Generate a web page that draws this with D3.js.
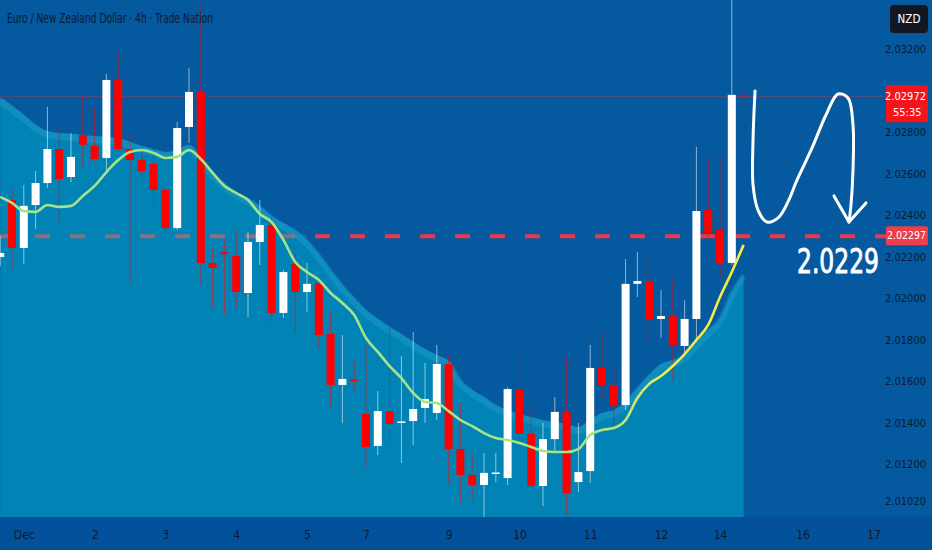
<!DOCTYPE html>
<html>
<head>
<meta charset="utf-8">
<script src="https://cdn.jsdelivr.net/npm/d3@7"></script>
<style>
  body { margin: 0; background: #05599e; overflow: hidden; }
  svg { display: block; }
</style>
</head>
<body>
<svg id="chart"></svg>
<script>
// ---- data (EUR/NZD, 4h bars, first bar index -1) ----
var firstBar = -1;
var opens = [2.02198,2.02472,2.02241,2.02448,2.02554,2.02718,2.02583,2.02786,2.02733,2.02675,2.03056,2.02718,2.02665,2.02646,2.02521,2.02337,
  2.02824,2.02998,2.02169,2.02222,2.02203,2.02024,2.02270,2.02352,2.01928,2.02164,2.02029,2.02072,2.01827,2.01581,2.01607,2.01441,
  2.01287,2.01455,2.01400,2.01407,2.01470,2.01446,2.01682,2.01272,2.01147,2.01099,2.01154,2.01132,2.01561,2.01345,2.01094,2.01320,
  2.01451,2.01113,2.01166,2.01667,2.01581,2.01484,2.02068,2.02082,2.01899,2.01918,2.01769,2.01899,2.02424,2.02328,2.02169,2.02979];
var highs = [2.02299,2.02530,2.02545,2.02612,2.02921,2.02834,2.02795,2.02979,2.02916,2.03080,2.03186,2.02795,2.02723,2.02819,2.02530,2.02848,
  2.03109,2.03412,2.02246,2.02280,2.02328,2.02318,2.02472,2.02390,2.02135,2.02217,2.02169,2.02077,2.01933,2.01822,2.01701,2.01774,
  2.01552,2.01904,2.01721,2.01836,2.01687,2.01774,2.01721,2.01494,2.01253,2.01253,2.01253,2.01571,2.01764,2.01484,2.01398,2.01523,
  2.01716,2.01398,2.01774,2.01836,2.01677,2.02188,2.02222,2.02198,2.02039,2.02096,2.01990,2.02728,2.02680,2.02680,2.03461,2.03065];
var lows = [2.02154,2.02135,2.02164,2.02333,2.02530,2.02362,2.02559,2.02627,2.02656,2.02603,2.02704,2.02072,2.02578,2.02448,2.02304,2.02328,
  2.02747,2.02072,2.01952,2.01918,2.01957,2.01908,2.02159,2.01880,2.01904,2.01836,2.01933,2.01759,2.01475,2.01398,2.01547,2.01181,
  2.01243,2.01301,2.01205,2.01292,2.01398,2.01412,2.01108,2.01012,2.01026,2.00944,2.01113,2.01099,2.01316,2.01084,2.00997,2.01258,
  2.00954,2.01065,2.01108,2.01508,2.01373,2.01460,2.02005,2.01788,2.01807,2.01605,2.01735,2.01802,2.02280,2.02087,2.02159,2.02762];
var closes = [2.02217,2.02241,2.02444,2.02554,2.02718,2.02574,2.02680,2.02738,2.02670,2.03051,2.02718,2.02665,2.02612,2.02521,2.02337,2.02819,
  2.02993,2.02169,2.02145,2.02212,2.02029,2.02270,2.02352,2.01928,2.02125,2.02029,2.02068,2.01822,2.01581,2.01610,2.01600,2.01282,
  2.01455,2.01393,2.01405,2.01465,2.01513,2.01682,2.01272,2.01147,2.01099,2.01157,2.01159,2.01561,2.01345,2.01094,2.01320,2.01451,
  2.01060,2.01161,2.01663,2.01581,2.01479,2.02068,2.02082,2.01899,2.01913,2.01769,2.01899,2.02419,2.02313,2.02164,2.02979,2.02972];
// moving average
var maValues = [2.02487,2.02458,2.02419,2.02415,2.02448,2.02439,2.02444,2.02492,2.02540,2.02607,2.02665,2.02704,2.02713,2.02699,2.02675,2.02680,
  2.02713,2.02670,2.02603,2.02540,2.02506,2.02472,2.02405,2.02366,2.02280,2.02174,2.02125,2.02087,2.02024,2.01976,2.01918,2.01807,
  2.01740,2.01672,2.01614,2.01542,2.01499,2.01494,2.01455,2.01412,2.01383,2.01349,2.01325,2.01316,2.01301,2.01282,2.01263,2.01258,
  2.01258,2.01272,2.01340,2.01364,2.01373,2.01412,2.01518,2.01586,2.01624,2.01672,2.01730,2.01798,2.01870,2.02005,2.02125,2.02256];
// upper band of the cloud
var bandValues = [2.02969,2.02926,2.02882,2.02834,2.02805,2.02795,2.02791,2.02786,2.02781,2.02776,2.02771,2.02752,2.02733,2.02718,2.02704,2.02713,
  2.02738,2.02675,2.02607,2.02554,2.02511,2.02482,2.02444,2.02395,2.02362,2.02328,2.02280,2.02212,2.02135,2.02063,2.02000,2.01942,
  2.01899,2.01860,2.01827,2.01788,2.01754,2.01725,2.01696,2.01605,2.01557,2.01523,2.01484,2.01460,2.01441,2.01426,2.01412,2.01402,
  2.01393,2.01378,2.01412,2.01446,2.01460,2.01499,2.01566,2.01629,2.01682,2.01701,2.01725,2.01788,2.01846,2.01904,2.02029,2.02121];

var xTickBars = [1,7,13,19,25,30,37,43,49,55,60,67,73];
var xTickLabels = ["Dec","2","3","4","5","7","9","10","11","12","14","16","17"];
var yTickValues = [2.032,2.028,2.026,2.024,2.022,2.020,2.018,2.016,2.014,2.012,2.0102];

var lastPrice = 2.02972, lastTimer = "55:35";
var levelPrice = 2.02297, targetText = "2.0229";

// hand drawn annotation (bar index, price)
var annoBars = [62.97,62.80,62.80,63.22,63.98,64.92,65.76,66.53,67.80,68.98,70.00,70.85,71.27,71.27,71.10,70.93];
var annoPrices = [2.02998,2.02762,2.02545,2.02424,2.02366,2.02386,2.02463,2.02569,2.02723,2.02882,2.02983,2.02964,2.02834,2.02617,2.02448,2.02366];
var arrowBars = [69.66,70.93,72.37];
var arrowPrices = [2.02492,2.02366,2.02458];

// ---- layout ----
var W = 932, H = 550, plotRight = 886, plotBottom = 517;
var narrow = '"Liberation Sans Narrow", "DejaVu Sans Condensed", sans-serif';
var textDark = "#0c1b33";

var svg = d3.select("#chart").attr("width", W).attr("height", H);

var x = d3.scaleLinear().domain([-1, 62]).range([0.2, 743.6]);
var y = d3.scaleLinear().domain([2.016, 2.032]).range([381, 49]);
var bars = d3.range(firstBar, firstBar + opens.length);

svg.append("rect").attr("width", W).attr("height", H).attr("fill", "#05599e");
svg.append("rect").attr("y", plotBottom).attr("width", W).attr("height", H - plotBottom).attr("fill", "#03519a");

svg.append("clipPath").attr("id", "plotClip")
  .append("rect").attr("width", plotRight).attr("height", plotBottom);
var plot = svg.append("g").attr("clip-path", "url(#plotClip)");

// last price line
plot.append("line")
  .attr("x1", 0).attr("x2", plotRight)
  .attr("y1", y(lastPrice)).attr("y2", y(lastPrice))
  .attr("stroke", "#c0394a").attr("stroke-opacity", 0.5).attr("stroke-width", 1);

// level dashed line (under the cloud)
plot.append("line")
  .attr("x1", 0).attr("x2", plotRight)
  .attr("y1", y(levelPrice)).attr("y2", y(levelPrice))
  .attr("stroke", "#f23645").attr("stroke-width", 4)
  .attr("stroke-dasharray", "15,20");

// cloud
var area = d3.area()
  .x(function (d, k) { return x(bars[k]); })
  .y0(plotBottom)
  .y1(function (d) { return y(d); })
  .curve(d3.curveMonotoneX);
plot.append("path").datum(bandValues)
  .attr("d", area)
  .attr("fill", "rgb(0,190,215)").attr("fill-opacity", 0.42);

var bandLine = d3.line()
  .x(function (d, k) { return x(bars[k]); })
  .y(function (d) { return y(d); })
  .curve(d3.curveMonotoneX);
plot.append("path").datum(bandValues)
  .attr("d", bandLine)
  .attr("transform", "translate(0,3.5)")
  .attr("fill", "none")
  .attr("stroke", "rgb(90,205,240)").attr("stroke-opacity", 0.17).attr("stroke-width", 7);

// candles
var candles = bars.map(function (b, k) {
  return { bar: b, o: opens[k], h: highs[k], l: lows[k], c: closes[k] };
});
function candleColor(d) { return d.c >= d.o ? "#ffffff" : "#ff0000"; }

plot.append("g").selectAll("line").data(candles).join("line")
  .attr("x1", function (d) { return x(d.bar); })
  .attr("x2", function (d) { return x(d.bar); })
  .attr("y1", function (d) { return y(d.h); })
  .attr("y2", function (d) { return y(d.l); })
  .attr("stroke", candleColor).attr("stroke-opacity", 0.55).attr("stroke-width", 1);

plot.append("g").selectAll("rect").data(candles).join("rect")
  .attr("x", function (d) { return x(d.bar) - 4; })
  .attr("width", 8)
  .attr("y", function (d) { return y(Math.max(d.o, d.c)); })
  .attr("height", function (d) { return Math.max(1.5, Math.abs(y(d.o) - y(d.c))); })
  .attr("fill", candleColor);

// moving average with green -> yellow gradient
var grad = svg.append("defs").append("linearGradient")
  .attr("id", "maGrad").attr("gradientUnits", "userSpaceOnUse")
  .attr("x1", 0).attr("x2", x(62)).attr("y1", 0).attr("y2", 0);
grad.append("stop").attr("offset", 0).attr("stop-color", "#a3e38a");
grad.append("stop").attr("offset", 0.8).attr("stop-color", "#a8e386");
grad.append("stop").attr("offset", 0.9).attr("stop-color", "#f3ea4a");
grad.append("stop").attr("offset", 1).attr("stop-color", "#f7ec3e");

plot.append("path").datum(maValues)
  .attr("d", bandLine)
  .attr("fill", "none")
  .attr("stroke", "url(#maGrad)").attr("stroke-width", 2.6)
  .attr("stroke-linejoin", "round");

// annotation curve and arrow
var annoLine = d3.line()
  .x(function (d) { return x(d[0]); })
  .y(function (d) { return y(d[1]); });
svg.append("path")
  .datum(annoBars.map(function (b, k) { return [b, annoPrices[k]]; }))
  .attr("d", annoLine.curve(d3.curveCatmullRom))
  .attr("fill", "none").attr("stroke", "#ffffff").attr("stroke-width", 3)
  .attr("stroke-linecap", "round").attr("stroke-linejoin", "round");
svg.append("path")
  .datum(arrowBars.map(function (b, k) { return [b, arrowPrices[k]]; }))
  .attr("d", annoLine.curve(d3.curveLinear))
  .attr("fill", "none").attr("stroke", "#ffffff").attr("stroke-width", 3)
  .attr("stroke-linecap", "round").attr("stroke-linejoin", "round");

// target text, left edge pinned, fixed width so it stays clear of the price axis
svg.append("text")
  .attr("x", x(70) - 41).attr("y", y(2.0212))
  .attr("font-family", narrow).attr("font-size", 33)
  .attr("textLength", 82).attr("lengthAdjust", "spacingAndGlyphs")
  .attr("fill", "#ffffff")
  .attr("stroke", "#ffffff").attr("stroke-width", 0.9)
  .text(targetText);

// axes
var yAxis = svg.append("g")
  .attr("transform", "translate(926,0)")
  .call(d3.axisLeft(y).tickValues(yTickValues).tickFormat(d3.format(".5f")).tickSize(0).tickPadding(0));
yAxis.select(".domain").remove();
yAxis.attr("font-family", narrow).attr("font-size", 11);
yAxis.selectAll("text").attr("fill", textDark);

var xAxis = svg.append("g")
  .attr("transform", "translate(0," + 521 + ")")
  .call(d3.axisBottom(x).tickValues(xTickBars)
    .tickFormat(function (d, k) { return xTickLabels[k]; })
    .tickSize(0).tickPadding(9));
xAxis.select(".domain").remove();
xAxis.attr("font-family", narrow).attr("font-size", 12);
xAxis.selectAll("text").attr("fill", textDark);

// price labels
var ly = y(lastPrice);
svg.append("rect").attr("x", 886).attr("y", ly - 11).attr("width", 42).attr("height", 37)
  .attr("rx", 2).attr("fill", "#f5141c");
svg.append("text").attr("x", 926).attr("y", ly + 4).attr("text-anchor", "end")
  .attr("font-family", narrow).attr("font-size", 11).attr("fill", "#ffffff")
  .text(d3.format(".5f")(lastPrice));
svg.append("text").attr("x", 893).attr("y", ly + 20)
  .attr("font-family", narrow).attr("font-size", 11).attr("fill", "#ffffff")
  .text(lastTimer);

var vy = y(levelPrice);
svg.append("rect").attr("x", 886).attr("y", vy - 10).attr("width", 42).attr("height", 19)
  .attr("rx", 2).attr("fill", "#ec3f4b");
svg.append("text").attr("x", 926).attr("y", vy + 3).attr("text-anchor", "end")
  .attr("font-family", narrow).attr("font-size", 10.5).attr("fill", "#ffffff")
  .text(d3.format(".5f")(levelPrice));

// currency badge
svg.append("rect").attr("x", 890).attr("y", 5).attr("width", 38).attr("height", 28)
  .attr("rx", 4).attr("fill", "#131722");
svg.append("text").attr("x", 909).attr("y", 23).attr("text-anchor", "middle")
  .attr("font-family", narrow).attr("font-size", 11.5).attr("fill", "#ffffff")
  .text("NZD");

// title
svg.append("text").attr("x", 7).attr("y", 23)
  .attr("font-family", narrow).attr("font-size", 14)
  .attr("textLength", 206).attr("lengthAdjust", "spacingAndGlyphs")
  .attr("fill", textDark)
  .text("Euro / New Zealand Dollar · 4h · Trade Nation");
</script>
</body>
</html>
